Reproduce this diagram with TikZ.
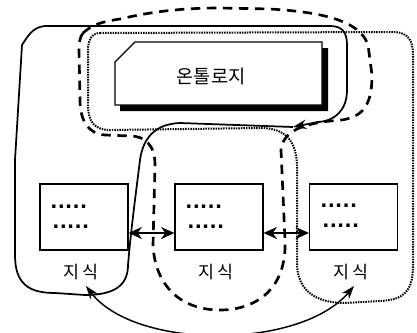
\documentclass[tikz,border=0pt]{standalone}
\usepackage{fontspec}
\newfontfamily\kr{Noto Sans CJK KR}
\newfontfamily\dv{DejaVu Sans}
\usetikzlibrary{arrows.meta}
\newcommand\fivedots{.\kern0.3pt.\kern0.3pt.\kern0.3pt.\kern0.3pt.}
\begin{document}
\begin{tikzpicture}[x=0.75pt,y=-0.75pt,
  kbox/.style={draw,line width=0.9pt,fill=white,minimum width=66pt,minimum height=49.5pt,inner sep=0pt},
  dotrow/.style={font=\dv\bfseries\fontsize{14}{14}\selectfont,inner sep=0pt,anchor=base west},
  lbl/.style={font=\kr\fontsize{13}{13}\selectfont,inner sep=0pt},
  otext/.style={font=\kr\fontsize{14}{14}\selectfont,inner sep=0pt},
  loopA/.style={line width=1.3pt,line join=round},
  loopB/.style={line width=2pt,dash pattern=on 7pt off 5pt},
  loopC/.style={line width=1.5pt,dash pattern=on 1.1pt off 0.8pt},
  dbl/.style={line width=2pt,{Stealth[length=10pt,width=9pt]}-{Stealth[length=10pt,width=9pt]}},
  tipend/.style={line width=1.1pt,{Stealth[length=10pt,width=7pt]}-{Stealth[length=10pt,width=7pt]}}
]
\useasboundingbox (0,0) rectangle (417,332);
% dotted loop
\draw[loopC] (100,33) -- (395,32) .. controls (408,33) and (413,40) .. (413,55) -- (413,265)
  .. controls (413,290) and (405,300) .. (380,301) -- (345,303)
  .. controls (315,303) and (298,290) .. (297,265) -- (297,165)
  .. controls (296,140) and (285,128) .. (260,128) -- (110,130)
  .. controls (95,130) and (88,122) .. (88,105) -- (88,50)
  .. controls (88,40) and (92,33) .. (100,33) -- cycle;
% dashed loop
\draw[loopB] (83,33) .. controls (92,25) and (100,22) .. (120,19)
  .. controls (150,12) and (180,8) .. (220,8) -- (270,9)
  .. controls (320,12) and (360,20) .. (368,45) -- (372,75)
  .. controls (372,110) and (360,120) .. (330,121)
  .. controls (305,124) and (283,130) .. (281,150) -- (285,240)
  .. controls (287,290) and (255,310) .. (220,310)
  .. controls (180,310) and (155,285) .. (153,245) -- (155,165)
  .. controls (155,145) and (145,136) .. (130,136) -- (105,135)
  .. controls (88,134) and (80,120) .. (80,100) -- (79,50)
  .. controls (79,42) and (80,37) .. (83,33) -- cycle;
% solid loop
\draw[loopA,-{Stealth[length=10pt,width=7pt]}] (293,127) -- (180,123)
  .. controls (155,124) and (143,138) .. (140,160)
  .. controls (135,200) and (131,230) .. (128,265)
  .. controls (128,285) and (115,295) .. (85,295) -- (55,293)
  .. controls (30,293) and (15,285) .. (15,255) -- (15,160) -- (22,45)
  .. controls (30,32) and (35,27) .. (45,26) -- (330,26)
  .. controls (342,26) and (347,32) .. (347,45) -- (347,90)
  .. controls (347,110) and (335,121) .. (318,122) -- (293,127);
% ontology
\fill[black] (140,48) -- (328,48) -- (328,111) -- (120,111) -- (120,68) -- cycle;
\draw[line width=1pt,fill=white] (135,42) -- (322,42) -- (322,105) -- (115,105) -- (115,62) -- cycle;
\node[otext] (onto) at (211,77) {온톨로지};
% knowledge boxes
\node[kbox] (b1) at (84,217) {};
\node[kbox] (b2) at (219,217) {};
\node[kbox] (b3) at (353.5,217) {};
\node[dotrow] (d1a) at (50,208) {\fivedots};
\node[dotrow] (d1b) at (52,228.5) {\fivedots};
\node[dotrow] (d2a) at (185,208) {\fivedots};
\node[dotrow] (d2b) at (187,228.5) {\fivedots};
\node[dotrow] (d3a) at (320,207) {\fivedots};
\node[dotrow] (d3b) at (322,227.5) {\fivedots};
\node[lbl] (l1) at (81,272) {지 식};
\node[lbl] (l2) at (216,272) {지 식};
\node[lbl] (l3) at (351,272) {지 식};
% double arrows
\draw[dbl] ([yshift=-12pt]b1.east) -- ([yshift=-12pt]b2.west);
\draw[dbl] ([yshift=-12pt]b2.east) -- ([yshift=-12pt]b3.west);
% bottom arc
\coordinate (e1) at (86,286);
\coordinate (e3) at (354,286);
\draw[tipend] (e1) .. controls (135,350) and (300,350) .. (e3);
\end{tikzpicture}
\end{document}
